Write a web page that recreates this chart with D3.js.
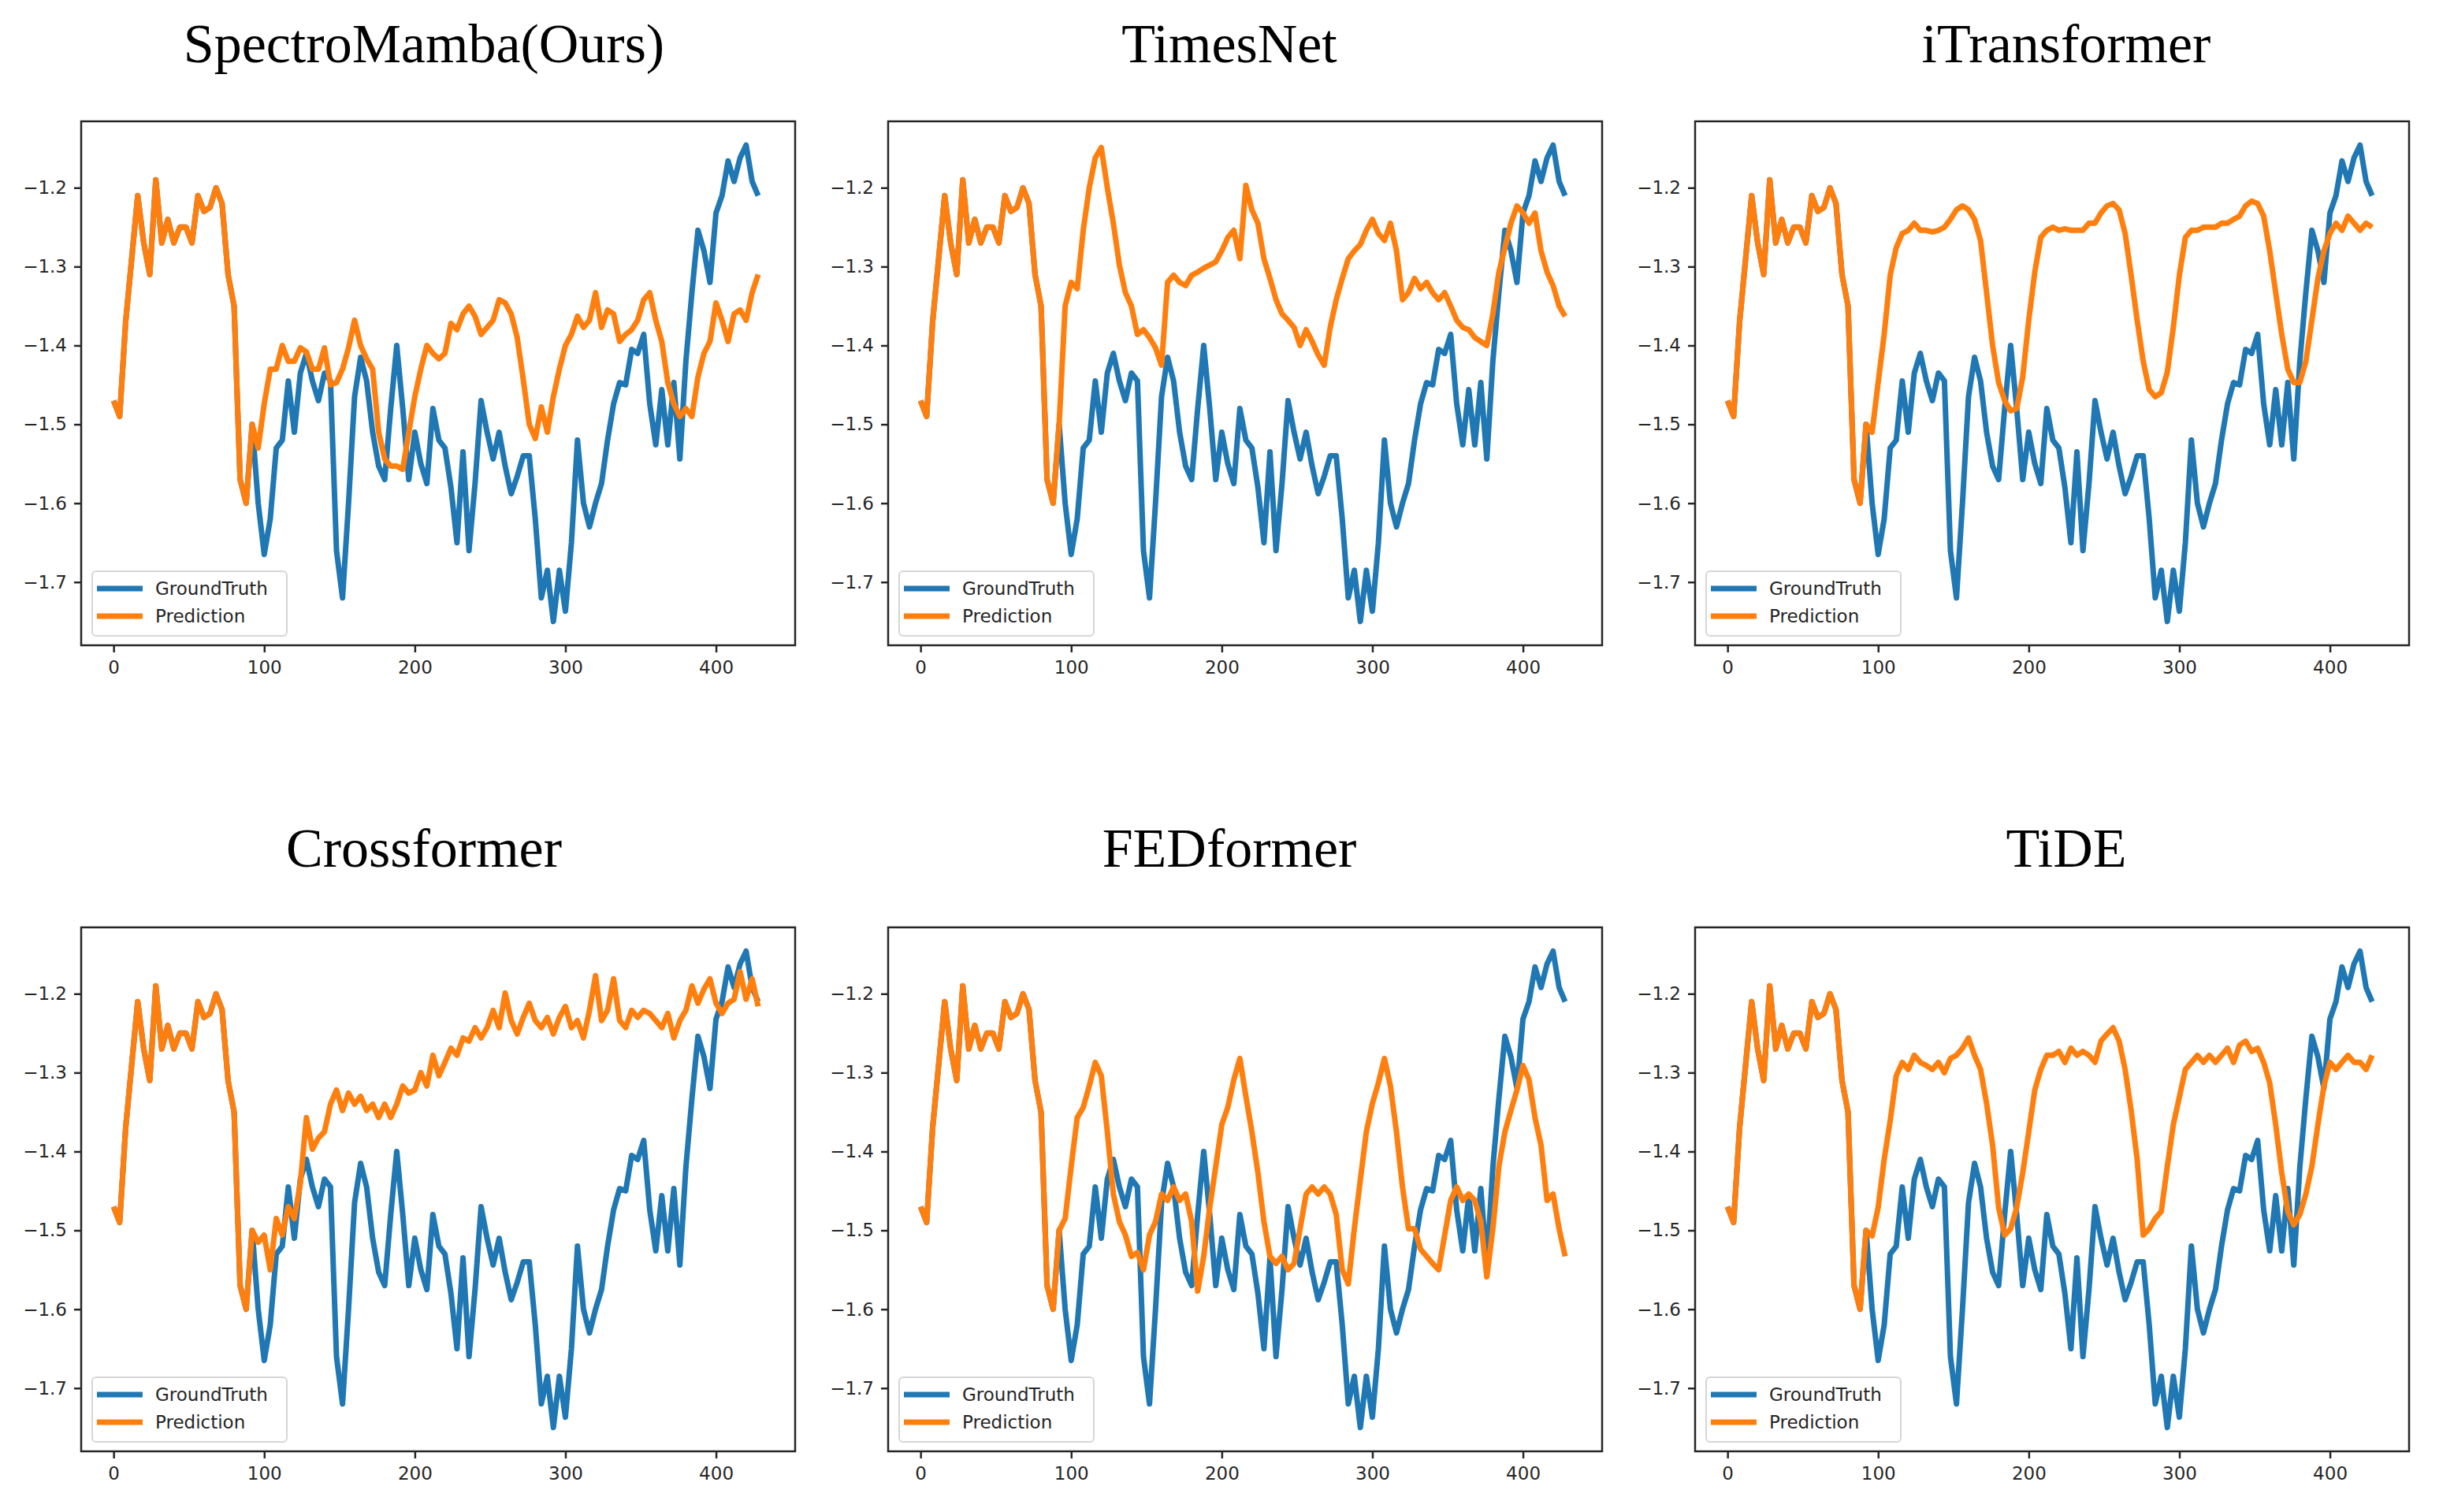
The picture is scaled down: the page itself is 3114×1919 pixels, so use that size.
<!DOCTYPE html>
<html>
<head>
<meta charset="utf-8">
<script src="https://cdn.jsdelivr.net/npm/d3@7"></script>
<style>
  body { margin: 0; background: #fff; }
</style>
</head>
<body>
<div id="plot"></div>
<script>
// 96 input steps + 336 forecast steps, values read every 4 steps
const totalSteps = 432;
const sampleStep = 4;

const modelNames = ["SpectroMamba(Ours)", "TimesNet", "iTransformer", "Crossformer", "FEDformer", "TiDE"];
const legendLabels = ["GroundTruth", "Prediction"];
const xTicks = [0, 100, 200, 300, 400];
const yTicks = [-1.7, -1.6, -1.5, -1.4, -1.3, -1.2];

// input window (steps 0..92), shared by truth and every prediction
const history = [
  -1.47, -1.49, -1.37, -1.29, -1.21, -1.27, -1.31, -1.19, -1.27, -1.24,
  -1.27, -1.25, -1.25, -1.27, -1.21, -1.23, -1.225, -1.20, -1.22, -1.31,
  -1.35, -1.57, -1.60, -1.50
];

// forecast window (steps 96..428)
const groundTruth = [
  -1.600, -1.665, -1.620, -1.530, -1.520, -1.445, -1.510, -1.435, -1.410, -1.445,
  -1.470, -1.435, -1.445, -1.660, -1.720, -1.600, -1.465, -1.415, -1.445, -1.510,
  -1.553, -1.570, -1.480, -1.400, -1.480, -1.570, -1.510, -1.550, -1.575, -1.480,
  -1.520, -1.530, -1.580, -1.650, -1.535, -1.660, -1.575, -1.470, -1.510, -1.544,
  -1.510, -1.553, -1.588, -1.566, -1.540, -1.540, -1.620, -1.720, -1.685, -1.750,
  -1.685, -1.737, -1.650, -1.520, -1.600, -1.630, -1.600, -1.575, -1.520, -1.474,
  -1.447, -1.450, -1.405, -1.410, -1.386, -1.474, -1.526, -1.456, -1.526, -1.447,
  -1.544, -1.420, -1.333, -1.254, -1.280, -1.320, -1.232, -1.210, -1.166, -1.192,
  -1.162, -1.146, -1.192, -1.210
];

const predSpectroMamba = [
  -1.530, -1.474, -1.430, -1.430, -1.400, -1.420, -1.420, -1.403, -1.408, -1.430,
  -1.430, -1.403, -1.450, -1.447, -1.430, -1.403, -1.368, -1.400, -1.417, -1.430,
  -1.510, -1.544, -1.553, -1.553, -1.557, -1.510, -1.465, -1.430, -1.400, -1.410,
  -1.417, -1.410, -1.372, -1.380, -1.360, -1.350, -1.363, -1.386, -1.377, -1.368,
  -1.342, -1.346, -1.360, -1.390, -1.443, -1.500, -1.518, -1.478, -1.510, -1.465,
  -1.430, -1.400, -1.386, -1.363, -1.377, -1.368, -1.333, -1.377, -1.355, -1.360,
  -1.395, -1.386, -1.380, -1.368, -1.342, -1.333, -1.368, -1.395, -1.447, -1.474,
  -1.490, -1.480, -1.490, -1.440, -1.410, -1.395, -1.346, -1.368, -1.395, -1.360,
  -1.355, -1.368, -1.333, -1.310
];

const predTimesNet = [
  -1.350, -1.320, -1.328, -1.254, -1.200, -1.162, -1.149, -1.200, -1.245, -1.298,
  -1.333, -1.350, -1.386, -1.380, -1.390, -1.403, -1.425, -1.320, -1.311, -1.320,
  -1.324, -1.311, -1.307, -1.302, -1.298, -1.294, -1.280, -1.263, -1.254, -1.290,
  -1.197, -1.228, -1.245, -1.290, -1.315, -1.342, -1.360, -1.368, -1.377, -1.400,
  -1.380, -1.395, -1.412, -1.425, -1.377, -1.342, -1.315, -1.290, -1.280, -1.272,
  -1.254, -1.240, -1.258, -1.267, -1.245, -1.280, -1.342, -1.333, -1.315, -1.328,
  -1.320, -1.333, -1.342, -1.333, -1.350, -1.368, -1.377, -1.380, -1.390, -1.395,
  -1.400, -1.360, -1.307, -1.276, -1.245, -1.223, -1.232, -1.245, -1.232, -1.280,
  -1.307, -1.324, -1.350, -1.363
];

const predITransformer = [
  -1.510, -1.447, -1.386, -1.311, -1.276, -1.258, -1.254, -1.245, -1.254, -1.254,
  -1.256, -1.254, -1.250, -1.240, -1.228, -1.223, -1.228, -1.240, -1.267, -1.333,
  -1.400, -1.447, -1.470, -1.483, -1.480, -1.440, -1.368, -1.307, -1.263, -1.254,
  -1.250, -1.254, -1.252, -1.254, -1.254, -1.254, -1.245, -1.245, -1.232, -1.223,
  -1.220, -1.228, -1.258, -1.311, -1.368, -1.420, -1.456, -1.465, -1.460, -1.434,
  -1.377, -1.311, -1.263, -1.254, -1.254, -1.250, -1.250, -1.250, -1.245, -1.245,
  -1.240, -1.236, -1.223, -1.217, -1.220, -1.236, -1.280, -1.333, -1.386, -1.430,
  -1.447, -1.447, -1.420, -1.368, -1.315, -1.280, -1.258, -1.245, -1.254, -1.236,
  -1.245, -1.254, -1.245, -1.250
];

const predCrossformer = [
  -1.515, -1.506, -1.550, -1.485, -1.506, -1.470, -1.485, -1.440, -1.357, -1.397,
  -1.383, -1.375, -1.340, -1.322, -1.348, -1.326, -1.340, -1.330, -1.348, -1.340,
  -1.357, -1.340, -1.357, -1.340, -1.317, -1.326, -1.322, -1.300, -1.317, -1.278,
  -1.304, -1.287, -1.269, -1.278, -1.256, -1.260, -1.243, -1.256, -1.243, -1.221,
  -1.243, -1.199, -1.234, -1.251, -1.230, -1.212, -1.234, -1.243, -1.230, -1.251,
  -1.230, -1.216, -1.243, -1.234, -1.256, -1.221, -1.177, -1.234, -1.221, -1.181,
  -1.234, -1.243, -1.221, -1.230, -1.221, -1.225, -1.234, -1.243, -1.225, -1.256,
  -1.234, -1.221, -1.190, -1.212, -1.194, -1.181, -1.212, -1.225, -1.212, -1.207,
  -1.172, -1.207, -1.181, -1.216
];

const predFEDformer = [
  -1.485, -1.419, -1.357, -1.344, -1.317, -1.287, -1.304, -1.375, -1.454, -1.489,
  -1.506, -1.533, -1.528, -1.550, -1.506, -1.489, -1.454, -1.462, -1.445, -1.462,
  -1.454, -1.489, -1.577, -1.533, -1.471, -1.419, -1.366, -1.344, -1.309, -1.282,
  -1.330, -1.375, -1.427, -1.489, -1.533, -1.542, -1.533, -1.550, -1.542, -1.498,
  -1.454, -1.445, -1.454, -1.445, -1.454, -1.480, -1.550, -1.568, -1.498, -1.436,
  -1.375, -1.339, -1.313, -1.282, -1.317, -1.375, -1.445, -1.498, -1.498, -1.524,
  -1.533, -1.542, -1.550, -1.506, -1.462, -1.445, -1.462, -1.454, -1.462, -1.489,
  -1.559, -1.498, -1.419, -1.375, -1.348, -1.322, -1.291, -1.309, -1.357, -1.392,
  -1.462, -1.454, -1.498, -1.533
];

const predTiDE = [
  -1.507, -1.471, -1.410, -1.361, -1.304, -1.287, -1.296, -1.278, -1.287, -1.291,
  -1.296, -1.287, -1.300, -1.282, -1.278, -1.269, -1.256, -1.278, -1.296, -1.339,
  -1.392, -1.471, -1.506, -1.498, -1.471, -1.427, -1.375, -1.322, -1.296, -1.278,
  -1.278, -1.273, -1.287, -1.269, -1.278, -1.273, -1.278, -1.287, -1.260, -1.251,
  -1.243, -1.260, -1.296, -1.348, -1.410, -1.506, -1.498, -1.485, -1.476, -1.419,
  -1.366, -1.331, -1.296, -1.287, -1.278, -1.287, -1.278, -1.287, -1.278, -1.269,
  -1.287, -1.265, -1.260, -1.273, -1.269, -1.287, -1.313, -1.366, -1.427, -1.476,
  -1.493, -1.480, -1.454, -1.419, -1.366, -1.317, -1.287, -1.296, -1.287, -1.278,
  -1.287, -1.287, -1.296, -1.278
];

const predictions = [predSpectroMamba, predTimesNet, predITransformer, predCrossformer, predFEDformer, predTiDE];

// page layout
const svgWidth = 3114;
const svgHeight = 1919;
const boxW = 906;
const boxH = 665;
const colLeft = [103, 1127, 2151];
const rowTop = [154, 1177];
const titleX = [538, 1560, 2622];
const titleY = [79, 1100];

const blue = "#1f77b4";
const orange = "#ff7f0e";
const inkColor = "#262626";
const tickFont = "'DejaVu Sans', sans-serif";

const svg = d3.select("#plot")
  .append("svg")
  .attr("width", svgWidth)
  .attr("height", svgHeight);

svg.append("rect")
  .attr("width", svgWidth)
  .attr("height", svgHeight)
  .attr("fill", "#fff");

const toPoints = vals => vals.map((v, i) => [i * sampleStep, v]);

modelNames.forEach((name, k) => {
  const col = k % 3;
  const row = Math.floor(k / 3);

  const truth = toPoints(history.concat(groundTruth));
  const pred = toPoints(history.concat(predictions[k]));

  // matplotlib-like autoscale with 5% margins
  const last = totalSteps - 1;
  const xScale = d3.scaleLinear()
    .domain([-0.05 * last, 1.05 * last])
    .range([0, boxW]);
  const ext = d3.extent(truth.concat(pred), d => d[1]);
  const pad = 0.05 * (ext[1] - ext[0]);
  const yScale = d3.scaleLinear()
    .domain([ext[0] - pad, ext[1] + pad])
    .range([boxH, 0]);

  // title
  svg.append("text")
    .attr("x", titleX[col])
    .attr("y", titleY[row])
    .attr("text-anchor", "middle")
    .style("font-family", "'Liberation Serif', 'Times New Roman', serif")
    .style("font-size", "70px")
    .style("fill", "#000")
    .text(name);

  const g = svg.append("g")
    .attr("transform", `translate(${colLeft[col]},${rowTop[row]})`);

  g.append("clipPath")
    .attr("id", "clip" + k)
    .append("rect")
    .attr("width", boxW)
    .attr("height", boxH);

  const line = d3.line()
    .x(d => xScale(d[0]))
    .y(d => yScale(d[1]));

  const lines = g.append("g").attr("clip-path", `url(#clip${k})`);
  [[truth, blue], [pred, orange]].forEach(([pts, color]) => {
    lines.append("path")
      .datum(pts)
      .attr("d", line)
      .attr("fill", "none")
      .attr("stroke", color)
      .attr("stroke-width", 7)
      .attr("stroke-linejoin", "round");
  });

  // axes
  const xAxis = g.append("g")
    .attr("transform", `translate(0,${boxH})`)
    .call(d3.axisBottom(xScale).tickValues(xTicks).tickSize(9).tickPadding(11));
  const yAxis = g.append("g")
    .call(d3.axisLeft(yScale).tickValues(yTicks).tickSize(9).tickPadding(9)
      .tickFormat(d3.format(".1f")));

  [xAxis, yAxis].forEach(ax => {
    ax.select(".domain").remove();
    ax.selectAll(".tick line")
      .attr("stroke", inkColor)
      .attr("stroke-width", 2.5);
    ax.selectAll(".tick text")
      .style("font-family", tickFont)
      .style("font-size", "23px")
      .style("fill", inkColor);
  });

  // frame
  g.append("rect")
    .attr("width", boxW)
    .attr("height", boxH)
    .attr("fill", "none")
    .attr("stroke", inkColor)
    .attr("stroke-width", 2.5);

  // legend
  const legend = g.append("g")
    .attr("transform", "translate(14,571)");
  legend.append("rect")
    .attr("width", 247)
    .attr("height", 82)
    .attr("rx", 5)
    .attr("fill", "#fff")
    .attr("fill-opacity", 0.8)
    .attr("stroke", "#d6d6d6")
    .attr("stroke-width", 2);

  [blue, orange].forEach((color, i) => {
    const ly = 22 + i * 35;
    legend.append("line")
      .attr("x1", 6)
      .attr("x2", 64)
      .attr("y1", ly)
      .attr("y2", ly)
      .attr("stroke", color)
      .attr("stroke-width", 7);
    legend.append("text")
      .attr("x", 80)
      .attr("y", ly)
      .attr("dy", "0.36em")
      .style("font-family", tickFont)
      .style("font-size", "23px")
      .style("fill", inkColor)
      .text(legendLabels[i]);
  });
});
</script>
</body>
</html>
